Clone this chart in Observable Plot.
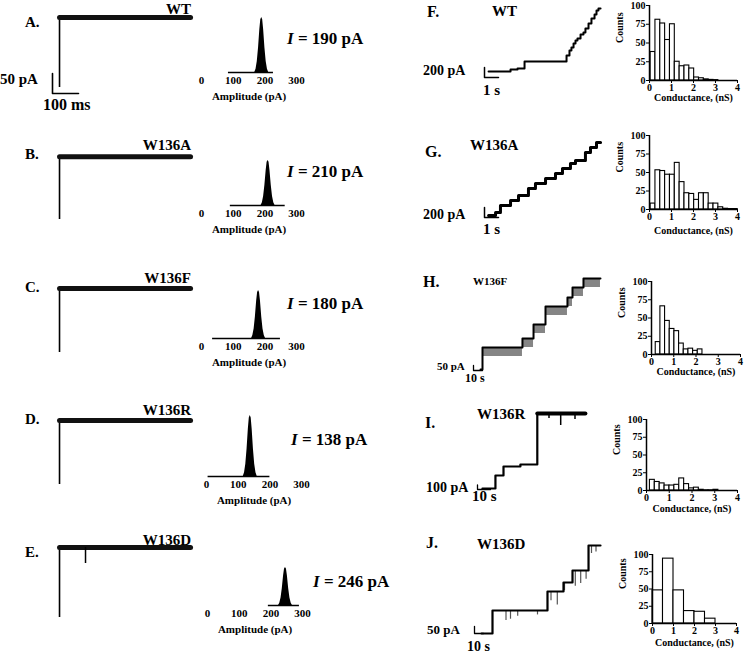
<!DOCTYPE html>
<html><head><meta charset="utf-8">
<script src="https://cdn.jsdelivr.net/npm/d3@7"></script>
<script src="https://cdn.jsdelivr.net/npm/@observablehq/plot@0.6"></script>
<style>
html,body{margin:0;padding:0;background:#fff;}
#fig{position:relative;width:745px;height:661px;overflow:hidden;background:#fff;font-family:"Liberation Serif","Times New Roman",serif;}
#fig svg{position:absolute;overflow:visible;}
.lbl{position:absolute;white-space:nowrap;font-weight:bold;line-height:1;color:#000;}
</style></head><body><div id="fig"></div>
<script>
// ================= DATA =================
const leftLetters = ["A.","B.","C.","D.","E."];
const rightLetters = ["F.","G.","H.","I.","J."];
const mutants = ["WT","W136A","W136F","W136R","W136D"];
const meanAmplitude = [190,210,180,138,246];           // pA
// whole-cell style traces (A-E), ms / pA
const onsetTime = 27;
const traceEnd = 531;
const footCurrent = [15,15,15,15,15];
const plateauCurrent = [190,172,175,175,190];
const spikesE = [[127,150]];
// amplitude histogram peak shape (offset pA, relative count)
const peakOffsets = [-22,-18,-14,-10,-6,-3,0,3,6,10,14,18,22];
const peakShape   = [0,6,20,45,78,96,100,96,78,45,20,6,0];
const baselineSpan = [[85,227],[91,264],[35,249],[5,200],[192,290]];
const ampTicks = [0,100,200,300];
// single-channel step traces (s, pA), step-after
const traceF_t = [0.29,1.86,2.36,2.86,5.86,6.07,6.21,6.36,6.5,6.64,6.86,7.07,7.21,7.43,7.64,7.86,8.0,8.14,8.29];
const traceF_I = [120,160,180,320,440,540,600,680,740,780,860,900,980,1080,1180,1260,1340,1380,1380];
const traceG_t = [0.29,0.79,1.14,1.86,2.43,3.14,3.64,4.36,5.07,5.57,6.14,6.5,7.21,7.57,8.0,8.29];
const traceG_I = [40,100,240,340,440,580,680,780,880,980,1080,1140,1300,1400,1500,1500];
const traceH_t = [7.8,10,54.4,66.7,80,104.4,110,122.2,141.1];
const traceH_I = [10,230,320,460,640,730,830,920];
const flickerH = 90;
const traceI_t = [3.8,13.8,20,33,46,83];
const traceI_I = [22,308,506,550,1672,1672];
const dipsI = [[55,1560],[64,1408],[75,1540]];
const traceJ_t = [7.8,20,81.1,98.9,108.9,126.7,140];
const traceJ_I = [0,161,294,357,441,616,616];
const dipsJ = [[35,91],[40,100],[48,120],[70,130],[85,230],[92,200],[100,300],[112,330],[118,350],[124,380],[130,560],[135,570]];
// conductance histograms (counts)
const histF = [38,81,76,54,75,25,19,20,16,4,3,1.5,0.8,0.5];
const histG = [8,53,52,47,47,63,37,22,21,13,22,22,8,8,3,1,0.6,0.6];
const histH = [17,66,46,35,32,15,7,8,5,7];
const histI = [15,12,10,7,7,8,17,9,3,4,1,0.3,0.3,1];
const histJ = [48,94,48,18,17,7];
const histBinStart = [0.05,0.05,0.19,0.15,0];
const histBinWidth = [0.22,0.22,0.21,0.215,0.5];
const countTicks = [0,25,50,75,100];
const condTicks = [0,1,2,3,4];

// ================= LAYOUT =================
const fig = document.getElementById("fig");
const FONT = "Liberation Serif, Times New Roman, serif";
function place(svg, left, top){ svg.style.left = left+"px"; svg.style.top = top+"px"; fig.appendChild(svg); }
function label(html, x, cy, size, opts={}){
  const d = document.createElement("div"); d.className = "lbl";
  d.style.fontSize = size+"px"; d.innerHTML = html;
  d.style.top = (cy - 0.52*size)+"px";
  d.style.left = x+"px";
  if (opts.right) d.style.transform = "translateX(-100%)";
  fig.appendChild(d);
}
function stylePlot(size){ return {background:"transparent", overflow:"visible", fontFamily:FONT, fontSize:size+"px", fontWeight:"bold", color:"#000"}; }
function framePlot(g, marks){
  const x0 = (g.left - g.ox)/g.sx, x1 = (g.left + g.width - g.ox)/g.sx;
  const y0 = (g.oy - (g.top + g.height))/g.sy, y1 = (g.oy - g.top)/g.sy;
  const svg = Plot.plot({width:g.width, height:g.height, margin:0,
    x:{domain:[x0,x1], axis:null}, y:{domain:[y0,y1], axis:null},
    style: stylePlot(11), marks});
  place(svg, g.left, g.top);
}

// ---- left column ----
const rowOffset = [0,132,265,397,530];
const mutLabelY = [10,14,14,14,11];
const iLabel = [[287,39],[287,40],[287,39],[291,43],[313,52]];
const ampGeom = [
  {zeroX:201, base:72,  top:17},
  {zeroX:201, base:205, top:160},
  {zeroX:201, base:338, top:290},
  {zeroX:206, base:476, top:415},
  {zeroX:207, base:605, top:567}
];
const PXPA = 0.317;
for (let r=0;r<5;r++){
  const o = rowOffset[r];
  const marks = [
    Plot.ruleX([onsetTime], {y1: footCurrent[r], y2: plateauCurrent[r], stroke:"#000", strokeWidth:1.6}),
    Plot.line([[onsetTime, plateauCurrent[r]],[traceEnd, plateauCurrent[r]]], {stroke:"#111", strokeWidth:5})
  ];
  if (r===0) marks.push(Plot.line([[0,50],[0,0],[100,0]], {stroke:"#000", strokeWidth:1.6}));
  if (r===4) marks.push(Plot.ruleX(spikesE, {x: d=>d[0], y1: d=>d[1], y2: plateauCurrent[4], stroke:"#000", strokeWidth:1.5}));
  framePlot({left:40, top:o, width:160, height:100, ox:52, oy:o+93, sx:0.26, sy:0.4}, marks);
  label(leftLetters[r], 25, o+23, 15);
  label(mutants[r], 191, o+mutLabelY[r], 15, {right:true});
  // amplitude histogram
  const g = ampGeom[r];
  const left = 180, width = 140, mt = 4, mb = 36;
  const peak = peakOffsets.map((d,i)=>({a: meanAmplitude[r]+d, c: peakShape[i]}));
  const svg = Plot.plot({
    width, height: mt + (g.base - g.top) + mb, marginTop:mt, marginBottom:mb, marginLeft:0, marginRight:0,
    x:{domain:[(left - g.zeroX)/PXPA, (left + width - g.zeroX)/PXPA], axis:null},
    y:{domain:[0,100], axis:null},
    style: stylePlot(11),
    marks:[
      Plot.areaY(peak, {x:"a", y:"c", fill:"#000", curve:"linear"}),
      Plot.ruleY([0], {x1: baselineSpan[r][0], x2: baselineSpan[r][1], stroke:"#000", strokeWidth:1.5}),
      Plot.axisX({ticks: ampTicks, tickSize:0, tickPadding:4, tickFormat: d=>String(d), label:null}),
      Plot.text(["Amplitude (pA)"], {x: ()=>150, frameAnchor:"bottom", dy:27})
    ]
  });
  place(svg, left, g.top - mt);
  label(`<i>I</i> = ${meanAmplitude[r]} pA`, iLabel[r][0], o + iLabel[r][1], 17);
}
label("50 pA", 0, 80, 15);
label("100 ms", 43, 105, 16);

// ---- right column traces ----
const stepData = (ts, is) => ts.map((t,i)=>[t, is[i]]);
// F
framePlot({left:478, top:0, width:125, height:100, ox:484, oy:77, sx:14, sy:0.05}, [
  Plot.line([[0,200],[0,0],[1,0]], {stroke:"#000", strokeWidth:1.5}),
  Plot.line(stepData(traceF_t, traceF_I), {curve:"step-after", stroke:"#000", strokeWidth:2})
]);
// G
framePlot({left:478, top:130, width:125, height:100, ox:484, oy:217, sx:14, sy:0.05}, [
  Plot.line([[0,200],[0,0],[1,0]], {stroke:"#000", strokeWidth:1.5}),
  Plot.line(stepData(traceG_t, traceG_I), {curve:"step-after", stroke:"#000", strokeWidth:3})
]);
// H
const hLevels = traceH_I.map((v,i)=>({t1: traceH_t[i], t2: traceH_t[i+1], I: v}));
framePlot({left:468, top:265, width:135, height:110, ox:473, oy:370, sx:0.9, sy:0.1}, [
  Plot.line([[0,50],[0,0],[10,0]], {stroke:"#000", strokeWidth:1.3}),
  Plot.rect(hLevels.slice(1), {x1:"t1", x2:"t2", y1: d=>d.I - flickerH, y2:"I", fill:"#333", fillOpacity:0.6}),
  Plot.line(stepData(traceH_t, traceH_I.concat([traceH_I[traceH_I.length-1]])), {curve:"step-after", stroke:"#000", strokeWidth:2})
]);
// I
framePlot({left:470, top:400, width:135, height:100, ox:477, oy:489, sx:1.3, sy:1/22}, [
  Plot.line([[0,100],[0,0],[10,0]], {stroke:"#000", strokeWidth:1.3}),
  Plot.ruleX(dipsI, {x: d=>d[0], y1: d=>d[1], y2: 1672, stroke:"#000", strokeWidth:1.5}),
  Plot.line(stepData(traceI_t, traceI_I), {curve:"step-after", stroke:"#000", strokeWidth:2.2}),
  Plot.line([[46,1672],[83,1672]], {stroke:"#000", strokeWidth:4})
]);
// J
const jLevelAt = t => { let v = traceJ_I[0]; traceJ_t.forEach((tt,i)=>{ if (t >= tt) v = traceJ_I[i]; }); return v; };
framePlot({left:468, top:530, width:135, height:110, ox:474, oy:633, sx:0.9, sy:1/7}, [
  Plot.line([[0,50],[0,0],[10,0]], {stroke:"#000", strokeWidth:1.3}),
  Plot.ruleX(dipsJ, {x: d=>d[0], y1: d=>d[1], y2: d=>jLevelAt(d[0]), stroke:"#555", strokeWidth:1.2}),
  Plot.line(stepData(traceJ_t, traceJ_I), {curve:"step-after", stroke:"#000", strokeWidth:2.2})
]);

// right labels
const rl = [
  {L:[427,12], M:[492,12,15], V:["200 pA",423,71,14], T:["1 s",483,91,15]},
  {L:[425,152], M:[470,146,15], V:["200 pA",423,215,14], T:["1 s",483,230,15]},
  {L:[423,282], M:[473,282,11], V:["50 pA",437,367,11], T:["10 s",465,378,12]},
  {L:[425,423], M:[477,415,15], V:["100 pA",426,488,14], T:["10 s",472,497,15]},
  {L:[426,543], M:[477,545,15], V:["50 pA",427,630,13], T:["10 s",467,647,14]}
];
rl.forEach((d,k)=>{
  label(rightLetters[k], d.L[0], d.L[1], 16);
  label(mutants[k], d.M[0], d.M[1], d.M[2]);
  label(d.V[0], d.V[1], d.V[2], d.V[3]);
  label(d.T[0], d.T[1], d.T[2], d.T[3]);
});

// ---- conductance histograms ----
const condGeom = [
  {x0:649, x4:737, y0:80,  y100:5,   ldy:20},
  {x0:649, x4:737, y0:209, y100:135, ldy:24},
  {x0:651, x4:740, y0:354, y100:281, ldy:20},
  {x0:646, x4:737, y0:490, y100:419, ldy:21},
  {x0:652, x4:736, y0:623, y100:554, ldy:22}
];
const hists = [histF, histG, histH, histI, histJ];
hists.forEach((h,k)=>{
  const g = condGeom[k];
  const bins = h.map((c,i)=>({x1: histBinStart[k] + i*histBinWidth[k], x2: histBinStart[k] + (i+1)*histBinWidth[k], c}));
  const ml = 48, mr = 10, mt = 6, mb = 30;
  const svg = Plot.plot({
    width: ml + (g.x4 - g.x0) + mr, height: mt + (g.y0 - g.y100) + mb,
    marginLeft:ml, marginRight:mr, marginTop:mt, marginBottom:mb,
    x:{domain:[0,4], axis:null}, y:{domain:[0,100], axis:null},
    style: stylePlot(10),
    marks:[
      Plot.rectY(bins, {x1:"x1", x2:"x2", y:"c", fill:"#fff", stroke:"#000", strokeWidth:1.1, inset:0}),
      Plot.ruleX([0], {y1:0, y2:100, stroke:"#000", strokeWidth:1.5}),
      Plot.ruleY([0], {x1:0, x2:4, stroke:"#000", strokeWidth:1.5}),
      Plot.axisY({ticks: countTicks, tickSize:3, tickPadding:1, tickFormat: d=>String(d), label:null}),
      Plot.axisX({ticks: condTicks, tickSize:3, tickPadding:0, tickFormat: d=>String(d), label:null}),
      Plot.text(["Counts"], {frameAnchor:"left", rotate:-90, dx:-30}),
      Plot.text(["Conductance, (nS)"], {frameAnchor:"bottom", dy:g.ldy})
    ]
  });
  place(svg, g.x0 - ml, g.y100 - mt);
});
</script></body></html>
